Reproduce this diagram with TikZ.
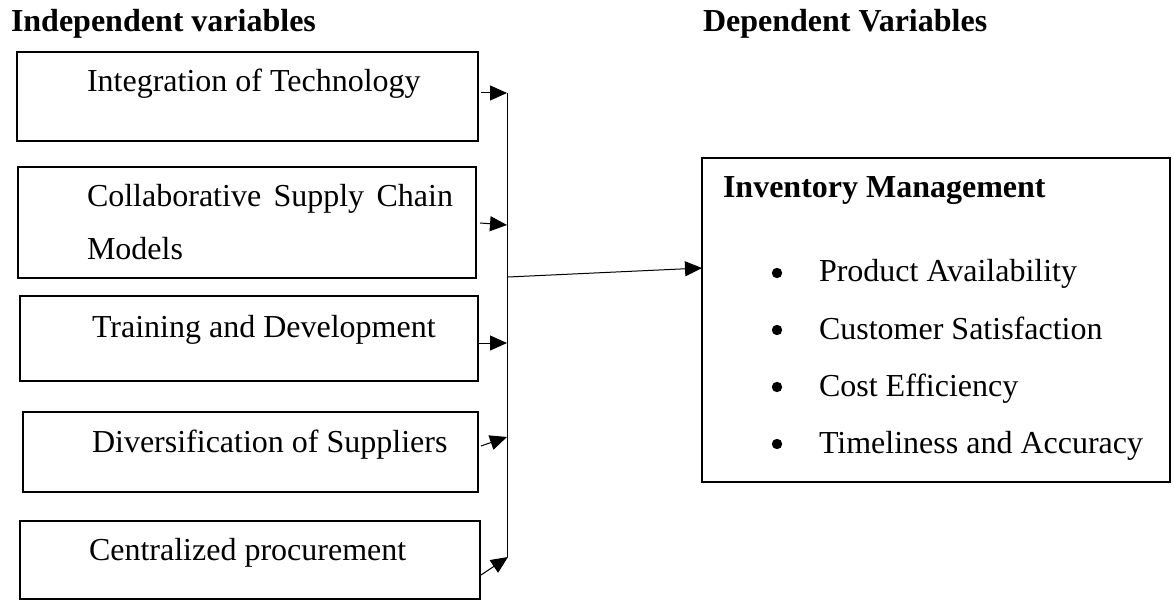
\documentclass[tikz,border=0pt]{standalone}
\usepackage{fontspec}
\setmainfont{Liberation Serif}
\usetikzlibrary{arrows.meta}

\begin{document}
\begin{tikzpicture}[x=1pt,y=-1pt,
    font=\fontsize{32}{38}\selectfont,
    box/.style={draw, line width=1.8pt, inner sep=0pt, outer sep=0pt, anchor=north west},
    txt/.style={anchor=base west, inner sep=0pt, outer sep=0pt},
    head/.style={anchor=base west, inner sep=0pt, outer sep=0pt, font=\fontsize{32}{38}\selectfont\bfseries},
    arr/.style={line width=1pt, -{Triangle[length=17pt,width=15pt]}},
    bus/.style={line width=1pt}]
  \useasboundingbox (0,0) rectangle (1174,601);

  % column headings
  \node[head] (hind) at (11,32) {Independent variables};
  \node[head] (hdep) at (703,32) {Dependent Variables};

  % independent variable boxes
  \node[box, minimum width=461pt, minimum height=89pt]  (b1) at (17,52)  {};
  \node[box, minimum width=458pt, minimum height=111pt] (b2) at (18,167) {};
  \node[box, minimum width=458pt, minimum height=85pt]  (b3) at (20,296) {};
  \node[box, minimum width=455pt, minimum height=80pt]  (b4) at (23,412) {};
  \node[box, minimum width=460pt, minimum height=78pt]  (b5) at (20,521) {};

  \node[txt] (t1)  at (87,92)  {Integration of Technology};
  \node[txt] (t2a) at (87,207) {\makebox[366pt][s]{Collaborative Supply Chain}};
  \node[txt] (t2b) at (87,260) {Models};
  \node[txt] (t3)  at (92,337) {Training and Development};
  \node[txt] (t4)  at (92,452) {Diversification of Suppliers};
  \node[txt] (t5)  at (89,560) {Centralized procurement};

  % dependent variable box
  \node[box, minimum width=468pt, minimum height=324pt] (dv) at (702,158) {};
  \node[head] (dvt) at (723,198) {Inventory Management};
  \foreach \n/\y/\s in {1/282/Product Availability,
                        2/339/Customer Satisfaction,
                        3/396/Cost Efficiency,
                        4/453/Timeliness and Accuracy}{
    \fill (777,\y-9) circle (5.2pt);
    \node[txt] (it\n) at (819,\y) {\s};
  }

  % collecting bus
  \coordinate (j1) at (507,93);
  \coordinate (j2) at (507,225);
  \coordinate (j3) at (507,343);
  \coordinate (j4) at (507,437);
  \coordinate (j5) at (508,557);
  \coordinate (jm) at (508,277);
  \draw[bus] (j1) -- (507,557);

  % arrows into the bus
  \draw[arr] ([xshift=3pt,yshift=3.5pt]b1.east) -- (j1);
  \draw[arr] ([xshift=4pt,yshift=-0.5pt]b2.east) -- (j2);
  \draw[arr] ([yshift=-4.5pt]b3.east) -- (j3);
  \draw[arr] ([xshift=3pt,yshift=6pt]b4.east) -- (j4);
  \draw[arr] ([xshift=1pt,yshift=-15pt]b5.east) -- (j5);

  % arrow to the dependent variable
  \draw[arr] (jm) -- ([yshift=52pt]dv.west);
\end{tikzpicture}
\end{document}
